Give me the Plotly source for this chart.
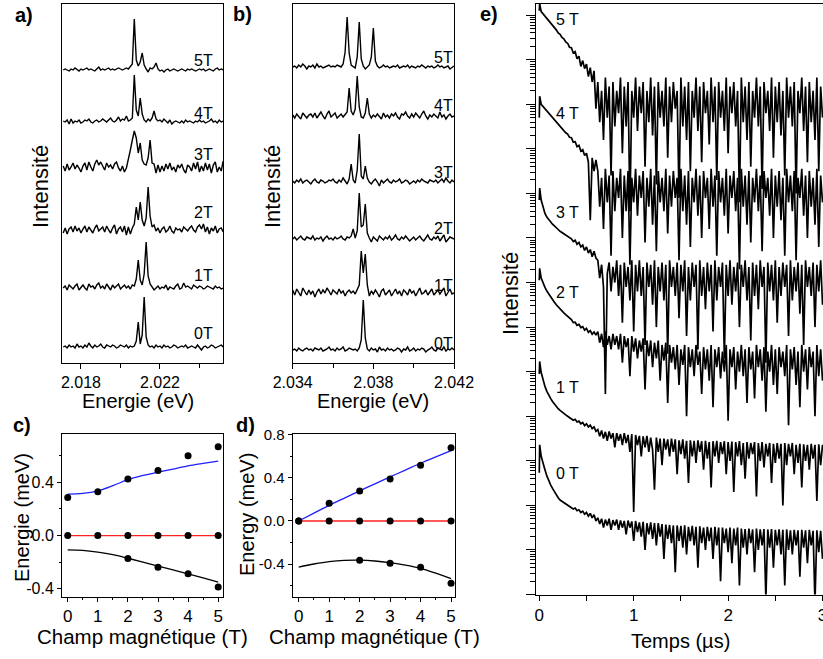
import numpy as np
import plotly.graph_objects as go

W, H = 823, 659
FONT = "Liberation Sans, Arial, sans-serif"

def px(x):
    return x / W

def py(y):
    return 1 - y / H

FIELDS = ["0T", "1T", "2T", "3T", "4T", "5T"]

# ---------------- Panel a : spectra (intensity, arbitrary units) ----------------
A_E = np.round(2.0171 + 0.0001 * np.arange(82), 4)
A_0T = [0,1,-1,2,0,1,-1,3,0,1, -1,2,0,4,1,-1,2,0,1,3, 0,-1,2,1,0,2,1,-1,0,2, 1,0,2,-1,1,0,
        1,6,25,3,12,50,10,2,0,1,-1,2,0,1,
        -1,2,0,1,-1,0,2,1,-1,0, 1,0,2,-1,0,1,0,-1,2,0, -3,0,1,-1,0,2,1,-1,0,1,2,0]
A_1T = [0,2,-2,3,1,-1,2,4,-2,1, 3,0,-2,4,1,2,-1,3,5,0, 2,-1,4,1,-2,3,0,2,4,-1, 1,3,0,2,-1,3,
        2,9,28,8,3,14,46,12,4,1,-2,0,2,-1,
        1,0,3,-2,1,0,-1,2,4,-1, 0,5,1,2,0,-1,3,1,0,2, 1,-1,0,2,1,0,-1,2,0,1,-1,0]
A_2T = [-3,2,-4,1,3,-2,4,-1,2,-3, 1,4,-2,3,0,-3,2,5,-1,1, 3,-2,4,0,-3,2,5,-4,1,3, -2,4,-5,3,-4,2,
        6,23,10,28,10,4,12,43,14,3,5,-1,2,-3,
        1,3,-2,0,4,-1,-3,2,0,1, -2,3,1,-1,2,4,0,-2,3,5, 1,6,-2,3,-4,2,-1,4,-3,1,2,-2]
A_3T = [2,-3,4,-2,1,5,-1,3,0,-4, 2,5,-2,6,1,-3,4,8,3,6, 2,-2,5,1,3,-1,4,6,0,-3, 2,-4,0,8,18,28,
        37,30,15,25,8,4,3,10,28,5,4,-5,3,-4,
        2,-3,4,-1,5,-2,1,-4,3,0, 4,-2,-5,3,1,-3,5,-1,6,-4, 2,-3,5,-2,4,-5,3,6,-4,1,-3,7]
A_4T = [1,0,2,-2,3,-1,1,0,2,-1, 0,2,1,3,0,-1,1,2,0,1, 3,1,0,2,4,1,0,2,5,1, 3,2,6,1,2,4,
        47,12,6,24,8,2,0,3,1,4,11,3,1,2,
        0,3,1,-1,2,-2,0,1,0,-1, 1,-1,2,0,1,0,-1,1,0,2, 0,1,-1,0,1,3,0,1,-1,2,0,1]
A_5T = [0,1,0,-1,1,0,2,0,-1,1, 0,1,2,0,1,0,-1,1,3,0, 1,0,1,2,0,1,0,1,2,1, 0,1,2,1,3,6,
        51,10,4,8,17,5,1,-2,2,1,3,7,1,-1,
        0,-2,0,1,-1,0,1,0,-1,0, 1,0,-1,1,0,1,0,-1,0,1, 0,1,-1,0,1,0,-1,1,2,0,1,0]
A_OFFSET = [16, 75, 133, 195, 241, 293]

# ---------------- Panel b : spectra ----------------
B_E = np.round(2.0340 + 0.0001 * np.arange(81), 4)
B_0T = [0,1,-1,2,0,-1,1,2,0,1, -1,2,1,0,2,-1,0,1,3,0, 1,-1,2,0,1,3,-1,0,2,1, 0,1,-1,2,
        10,50,12,1,-1,2,
        0,1,-2,3,0,1,-1,2,0,1, -1,0,2,1,-2,1,0,3,-1,0, 2,-1,1,0,2,1,-2,0,1,3, 0,-1,2,1,0,3,-1,1,0,2,0]
B_1T = [3,-2,4,0,-3,5,1,-2,3,-1, 2,-4,1,4,-1,3,0,5,2,-2, 3,1,-1,4,0,2,-3,1,3,0, 2,-1,3,8,
        42,20,39,8,-3,2,
        -1,3,0,-4,2,4,-2,1,3,-3, 0,4,-1,2,-3,3,1,-2,4,0, 2,-3,1,5,-1,0,3,-2,1,4, -2,0,3,-1,2,5,-3,1,4,-1,0]
B_2T = [0,2,-1,1,3,0,-1,2,1,0, 3,-1,1,0,2,-2,1,3,0,1, -1,2,0,1,3,0,-1,2,1,3,
        10,1,8,46,12,14,35,6,1,-3,
        2,0,-2,3,1,-1,2,0,3,-1, 1,4,0,-1,2,0,3,1,-2,0, 2,-1,1,3,0,-2,1,4,0,-1, 2,0,3,-2,1,4,-3,0,2,1,0]
B_3T = [1,-1,2,0,3,-1,1,2,0,-2, 1,3,0,-1,2,1,-1,0,2,1, 3,0,-1,2,0,4,1,-2,3,
        18,2,-1,12,48,6,3,16,4,0,-2,
        1,3,0,-4,2,-1,1,3,0,-1, 2,0,1,3,-1,0,2,1,-2,0, 1,-1,2,0,3,1,0,-1,2,1, 0,2,-1,1,3,0,4,1,-1,2,0]
B_4T = [2,-1,3,0,-2,4,1,-1,2,3, 0,4,-1,2,5,1,-2,3,6,0, 2,4,-1,1,3,0,2,5,
        29,6,2,8,41,10,0,-1,4,19,3,-1,
        2,0,3,1,-2,4,0,2,-1,3, 1,4,0,-2,3,2,5,1,-1,3, 0,4,2,-1,3,6,1,-2,2,0, 3,1,-1,5,0,2,-2,1,3,0,1]
B_5T = [0,1,-1,2,0,3,1,-2,1,0, 2,-1,3,0,1,-1,0,1,2,0, 1,0,2,1,0,3,
        15,50,14,2,0,-1,10,45,8,1,-2,0,2,10,39,6,
        1,-1,0,2,0,1,-1,0, 1,0,2,-1,0,1,0,2,-1,1, 0,-1,1,0,2,0,-1,1,0,1, -1,0,2,0,1,-1,0,1,-2,0,1]
B_OFFSET = [13, 70, 124, 181, 246, 296]

# ---------------- Panel c / d : Zeeman energies (meV) ----------------
FIELD_T = [0, 1, 2, 3, 4, 5]
C_UP = [0.286, 0.33, 0.426, 0.488, 0.60, 0.668]
C_MID = [0, 0, 0, 0, 0, 0]
C_LOW_T = [2, 3, 4, 5]
C_LOW = [-0.172, -0.237, -0.287, -0.386]
FIT_T = [0, 0.5, 1, 1.5, 2, 2.5, 3, 3.5, 4, 4.5, 5]
C_FIT_UP = [0.312, 0.317, 0.336, 0.375, 0.42, 0.452, 0.476, 0.50, 0.523, 0.542, 0.56]
C_FIT_LOW = [-0.107, -0.111, -0.124, -0.143, -0.17, -0.199, -0.229, -0.258, -0.287, -0.318, -0.349]

D_UP = [0.0, 0.165, 0.279, 0.39, 0.518, 0.682]
D_MID = [0, 0, 0, 0, 0, 0]
D_LOW_T = [2, 3, 4, 5]
D_LOW = [-0.366, -0.394, -0.431, -0.58]
D_FIT_UP = [0.0, 0.073, 0.145, 0.213, 0.28, 0.345, 0.41, 0.473, 0.537, 0.597, 0.655]
D_FIT_LOW = [-0.428, -0.40, -0.378, -0.366, -0.364, -0.372, -0.388, -0.41, -0.44, -0.485, -0.535]

# ---------------- Panel e : decays (log10 intensity, offset per field) ----------------
E_T = [0.0, 0.004] + [round(0.02 * k, 2) for k in range(1, 151)]
E_5T = [13.10, 13.26,
        13.08, 13.03, 12.98, 12.92, 12.87, 12.81, 12.77, 12.71, 12.67, 12.60,
        12.57, 12.50, 12.47, 12.40, 12.37, 12.28, 12.27, 12.15, 12.18, 12.02,
        12.08, 11.85, 11.98, 11.80, 11.90, 11.62, 11.82, 11.50, 11.75, 10.90,
        11.5, 10.6, 11.3, 10.2, 11.6, 10.7, 11.4, 9.4, 11.5, 10.5,
        11.3, 10.8, 11.6, 9.9, 11.4, 10.5, 11.5, 8.6, 11.3, 10.7,
        11.6, 10.4, 11.4, 10.8, 11.5, 9.6, 11.3, 10.6, 11.6, 10.3,
        11.4, 9.2, 11.5, 10.7, 11.3, 10.5, 11.6, 9.8, 11.4, 10.6,
        11.5, 10.9, 11.3, 8.9, 11.6, 10.5, 11.4, 10.2, 11.5, 9.5,
        11.3, 10.7, 11.6, 10.4, 11.4, 9.7, 11.5, 10.8, 11.3, 10.1,
        11.6, 10.6, 11.4, 9.3, 11.5, 10.7, 11.3, 10.4, 11.6, 9.9,
        11.4, 10.8, 11.5, 10.5, 11.3, 8.8, 11.6, 10.6, 11.4, 10.2,
        11.5, 9.6, 11.3, 10.7, 11.6, 10.5, 11.4, 9.1, 11.5, 10.8,
        11.3, 10.4, 11.6, 9.8, 11.4, 10.6, 11.5, 10.3, 11.3, 9.4,
        11.6, 10.7, 11.4, 10.5, 11.5, 9.0, 11.3, 10.8, 11.6, 10.4,
        11.4, 9.7, 11.5, 10.6, 11.3, 10.2, 11.6, 9.5, 11.4, 10.7]
E_4T = [10.70, 11.18,
        11.00, 10.95, 10.90, 10.84, 10.79, 10.74, 10.70, 10.64, 10.60, 10.55,
        10.50, 10.46, 10.41, 10.36, 10.33, 10.26, 10.25, 10.15, 10.16, 10.05,
        10.08, 9.95, 9.98, 9.85, 9.90, 9.70, 8.40, 9.80, 9.50, 9.75,
        9.5, 8.7, 9.35, 8.2, 9.55, 8.8, 9.4, 7.6, 9.5, 8.6,
        9.35, 8.9, 9.55, 8.0, 9.4, 8.6, 9.5, 7.4, 9.35, 8.8,
        9.55, 8.5, 9.4, 8.9, 9.5, 7.9, 9.35, 8.7, 9.55, 8.3,
        9.4, 7.7, 9.5, 8.8, 9.35, 8.6, 9.55, 8.1, 9.4, 8.7,
        9.5, 8.9, 9.35, 7.5, 9.55, 8.6, 9.4, 8.3, 9.5, 7.8,
        9.35, 8.8, 9.55, 8.5, 9.4, 8.0, 9.5, 8.9, 9.35, 8.2,
        9.55, 8.7, 9.4, 7.6, 9.5, 8.8, 9.35, 8.5, 9.55, 8.1,
        9.4, 8.9, 9.5, 8.6, 9.35, 7.3, 9.55, 8.7, 9.4, 8.3,
        9.5, 7.9, 9.35, 8.8, 9.55, 8.6, 9.4, 7.7, 9.5, 8.9,
        9.35, 8.5, 9.55, 8.0, 9.4, 8.7, 9.5, 8.4, 9.35, 7.6,
        9.55, 8.8, 9.4, 8.6, 9.5, 7.5, 9.35, 8.9, 9.55, 8.5,
        9.4, 8.0, 9.5, 8.7, 9.35, 8.3, 9.55, 7.8, 9.4, 8.8]
E_3T = [8.85, 9.12,
        8.85, 8.68, 8.55, 8.47, 8.41, 8.36, 8.31, 8.27, 8.22, 8.19,
        8.15, 8.12, 8.09, 8.06, 8.03, 7.99, 7.98, 7.92, 7.95, 7.86,
        7.90, 7.80, 7.84, 7.72, 7.80, 7.66, 7.74, 7.58, 7.70, 7.55,
        7.5, 7.1, 7.4, 6.9, 4.5, 7.2, 7.45, 6.8, 7.35, 7.0,
        7.5, 6.7, 7.4, 6.1, 7.45, 6.9, 7.35, 6.6, 7.5, 5.9,
        7.4, 6.8, 7.5, 6.7, 7.35, 5.6, 7.45, 6.9, 7.4, 6.5,
        7.5, 6.0, 7.35, 6.8, 7.45, 6.6, 7.4, 5.4, 7.5, 6.9,
        7.35, 6.7, 7.45, 6.2, 7.4, 6.8, 7.5, 5.8, 7.35, 6.6,
        7.45, 6.9, 7.4, 5.5, 7.5, 6.7, 7.35, 6.4, 7.45, 6.8,
        7.4, 5.9, 7.5, 6.6, 7.35, 6.9, 7.45, 5.3, 7.4, 6.7,
        7.5, 6.5, 7.35, 6.8, 7.45, 6.0, 7.4, 6.9, 7.5, 6.6,
        7.35, 5.7, 7.45, 6.7, 7.4, 6.4, 7.5, 6.9, 7.35, 5.2,
        7.45, 6.8, 7.4, 6.6, 7.5, 6.1, 7.35, 6.7, 7.45, 6.9,
        7.4, 5.8, 7.5, 6.6, 7.35, 6.8, 7.45, 6.3, 7.4, 5.6,
        7.5, 6.9, 7.35, 6.7, 7.45, 6.0, 7.4, 6.8, 7.5, 6.5]
E_2T = [7.05, 7.32,
        7.10, 6.98, 6.89, 6.81, 6.74, 6.67, 6.62, 6.56, 6.50, 6.45,
        6.40, 6.36, 6.32, 6.28, 6.24, 6.19, 6.17, 6.10, 6.11, 6.04,
        6.06, 5.99, 6.01, 5.93, 5.97, 5.88, 5.92, 5.84, 5.89, 5.82,
        5.9, 5.65, 5.85, 5.55, 5.9, 5.6, 5.8, 5.5, 5.85, 5.6,
        5.8, 5.5, 5.85, 5.2, 5.8, 5.55, 5.75, 4.9, 5.8, 5.45,
        5.75, 5.3, 5.7, 5.45, 5.75, 4.6, 5.7, 5.35, 5.7, 5.1,
        5.65, 5.3, 5.7, 4.8, 5.6, 5.25, 5.65, 4.3, 5.6, 5.2,
        5.55, 5.05, 5.6, 4.7, 5.5, 5.15, 5.6, 4.0, 5.55, 5.1,
        5.5, 4.9, 5.6, 5.15, 5.45, 4.5, 5.55, 5.05, 5.5, 4.8,
        5.6, 4.2, 5.5, 5.1, 5.55, 4.85, 5.45, 5.0, 5.6, 3.9,
        5.5, 5.1, 5.55, 4.6, 5.45, 5.0, 5.6, 4.9, 5.5, 4.3,
        5.55, 5.05, 5.45, 4.4, 5.6, 5.1, 5.5, 4.8, 5.55, 4.1,
        5.45, 5.0, 5.6, 4.7, 5.5, 4.5, 5.55, 5.1, 5.45, 4.9,
        5.6, 3.8, 5.5, 5.05, 5.55, 4.7, 5.45, 4.2, 5.6, 5.0,
        5.5, 4.6, 5.55, 5.1, 5.45, 4.0, 5.6, 4.9, 5.5, 4.8]
E_1T = [4.95, 5.23,
        4.98, 4.80, 4.67, 4.56, 4.47, 4.40, 4.33, 4.27, 4.22, 4.17,
        4.13, 4.09, 4.06, 4.03, 4.00, 3.97, 3.95, 3.91, 3.93, 3.87,
        3.89, 3.83, 3.86, 3.79, 3.83, 3.76, 3.80, 3.72, 3.76, 3.66,
        3.7, 3.55, 3.68, 3.5, 3.65, 3.45, 3.66, 3.5, 3.62, 3.3,
        3.62, 3.45, 3.6, 3.35, 3.62, 3.4, 3.58, 3.2, 3.6, 1.85,
        3.58, 3.35, 3.56, 3.1, 3.55, 3.3, 3.56, 3.2, 3.52, 3.25,
        2.35, 3.52, 3.2, 3.5, 2.9, 3.5, 3.25, 3.48, 3.1, 3.5,
        3.2, 3.48, 2.7, 3.46, 3.15, 3.48, 3.05, 3.45, 2.5, 3.46,
        3.1, 3.45, 2.95, 3.46, 3.2, 3.44, 2.8, 3.45, 3.05, 3.42,
        2.4, 3.44, 3.1, 3.45, 2.95, 3.42, 3.15, 3.44, 2.7, 3.42,
        3.0, 3.43, 2.3, 3.42, 3.1, 3.44, 2.9, 3.4, 2.6, 3.42,
        3.05, 3.4, 3.15, 3.42, 2.2, 3.4, 3.0, 3.42, 2.85, 3.38,
        3.1, 3.4, 2.5, 3.38, 2.95, 3.4, 3.05, 3.38, 2.0, 3.4,
        2.9, 3.38, 3.1, 3.4, 2.7, 3.36, 2.95, 3.38, 2.4, 3.37,
        3.0, 3.36, 2.8, 3.38, 3.05, 3.36, 2.1, 3.37, 2.9, 3.36]
E_0T = [2.73, 3.36,
        3.10, 2.92, 2.80, 2.66, 2.55, 2.46, 2.38, 2.30, 2.23, 2.17,
        2.12, 2.09, 2.06, 2.02, 2.00, 1.97, 1.95, 1.92, 1.94, 1.88,
        1.90, 1.84, 1.87, 1.80, 1.84, 1.76, 1.82, 1.72, 1.79, 1.65,
        1.72, 1.58, 1.7, 1.5, 1.68, 1.55, 1.7, 1.45, 1.67, 1.55,
        1.68, 1.45, 1.66, 1.5, 1.65, 1.35, 1.66, 1.5, 1.64, 1.2,
        1.65, 1.4, 1.62, 1.3, 1.63, 1.0, 1.6, 1.35, 1.62, 1.25,
        1.6, 1.1, 1.6, 1.3, 1.58, 0.8, 1.57, 1.25, 1.56, 1.15,
        1.55, 0.5, 1.55, 1.2, 1.54, 1.05, 1.55, 0.9, 1.52, 1.2,
        1.54, 1.1, 1.52, 0.6, 1.53, 1.15, 1.5, 1.0, 1.52, 1.2,
        1.5, 0.8, 1.52, 1.1, 1.5, 0.3, 1.5, 1.15, 1.48, 0.95,
        1.5, 0.7, 1.48, 1.1, 1.5, 0.2, 1.48, 1.05, 1.47, 0.9,
        1.48, 1.15, 1.46, 0.5, 1.48, 1.0, 1.46, 1.1, 1.47, -0.1,
        1.46, 1.05, 1.47, 0.6, 1.45, 1.1, 1.46, 0.9, 1.45, 0.2,
        1.46, 1.0, 1.44, 0.9, 1.45, 1.1, 1.44, 0.4, 1.45, 1.05,
        1.44, 0.7, 1.45, 1.1, 1.43, -0.2, 1.44, 0.95, 1.43, 0.8]

A_SPECTRA = [A_0T, A_1T, A_2T, A_3T, A_4T, A_5T]
B_SPECTRA = [B_0T, B_1T, B_2T, B_3T, B_4T, B_5T]
E_DECAYS = [E_0T, E_1T, E_2T, E_3T, E_4T, E_5T]

fig = go.Figure()
BLK = "black"

for spec, off in zip(A_SPECTRA, A_OFFSET):
    n = min(len(A_E), len(spec))
    fig.add_trace(go.Scatter(x=A_E[:n], y=np.array(spec[:n]) + off, mode="lines",
                             line=dict(color=BLK, width=1.4), xaxis="x", yaxis="y"))
for spec, off in zip(B_SPECTRA, B_OFFSET):
    n = min(len(B_E), len(spec))
    fig.add_trace(go.Scatter(x=B_E[:n], y=np.array(spec[:n]) + off, mode="lines",
                             line=dict(color=BLK, width=1.4), xaxis="x2", yaxis="y2"))

# panel c
fig.add_trace(go.Scatter(x=FIT_T, y=C_FIT_UP, mode="lines", line=dict(color="#1f1fff", width=1.3, shape="spline"), xaxis="x3", yaxis="y3"))
fig.add_trace(go.Scatter(x=FIELD_T, y=C_MID, mode="lines", line=dict(color="#ff2020", width=1.3), xaxis="x3", yaxis="y3"))
fig.add_trace(go.Scatter(x=FIT_T, y=C_FIT_LOW, mode="lines", line=dict(color=BLK, width=1.3, shape="spline"), xaxis="x3", yaxis="y3"))
for xs, ys in [(FIELD_T, C_UP), (FIELD_T, C_MID), (C_LOW_T, C_LOW)]:
    fig.add_trace(go.Scatter(x=xs, y=ys, mode="markers", marker=dict(color=BLK, size=7), xaxis="x3", yaxis="y3"))

# panel d
fig.add_trace(go.Scatter(x=FIT_T, y=D_FIT_UP, mode="lines", line=dict(color="#1f1fff", width=1.3, shape="spline"), xaxis="x4", yaxis="y4"))
fig.add_trace(go.Scatter(x=FIELD_T, y=D_MID, mode="lines", line=dict(color="#ff2020", width=1.3), xaxis="x4", yaxis="y4"))
fig.add_trace(go.Scatter(x=FIT_T, y=D_FIT_LOW, mode="lines", line=dict(color=BLK, width=1.3, shape="spline"), xaxis="x4", yaxis="y4"))
for xs, ys in [(FIELD_T, D_UP), (FIELD_T, D_MID), (D_LOW_T, D_LOW)]:
    fig.add_trace(go.Scatter(x=xs, y=ys, mode="markers", marker=dict(color=BLK, size=7), xaxis="x4", yaxis="y4"))

# panel e
for dec in E_DECAYS:
    n = min(len(E_T), len(dec))
    fig.add_trace(go.Scatter(x=E_T[:n], y=10.0 ** np.array(dec[:n]), mode="lines",
                             line=dict(color=BLK, width=1.7), xaxis="x5", yaxis="y5"))

tickfont = dict(family=FONT, size=16, color=BLK)
tickfont2 = dict(family=FONT, size=17, color=BLK)
base = dict(showline=True, linecolor=BLK, linewidth=1, mirror=True, ticks="outside",
            tickcolor=BLK, ticklen=5, tickwidth=1, showgrid=False, zeroline=False,
            tickfont=tickfont, automargin=False)

def minor(vals, ln=3):
    return dict(ticks="outside", tickmode="array", tickvals=vals, ticklen=ln, tickcolor=BLK, showgrid=False)

fig.update_layout(
    width=W, height=H, margin=dict(l=0, r=0, t=0, b=0, pad=0, autoexpand=False),
    paper_bgcolor="white", plot_bgcolor="white", showlegend=False,
    xaxis=dict(base, domain=[px(62), px(223)], range=[2.01704, 2.02519], anchor="y",
               tickmode="array", tickvals=[2.018, 2.022], ticktext=["2.018", "2.022"],
               minor=minor([2.020, 2.024], 4)),
    yaxis=dict(base, domain=[py(363), py(4)], range=[0, 359], anchor="x",
               showticklabels=False, ticks=""),
    xaxis2=dict(base, domain=[px(292.7), px(454)], range=[2.034, 2.042], anchor="y2",
                tickmode="array", tickvals=[2.034, 2.038, 2.042], ticktext=["2.034", "2.038", "2.042"],
                minor=minor([2.036, 2.040], 4)),
    yaxis2=dict(base, domain=[py(363), py(4)], range=[0, 359], anchor="x2",
                showticklabels=False, ticks=""),
    xaxis3=dict(base, domain=[px(62), px(222.7)], range=[-0.19, 5.15], anchor="y3",
                tickmode="array", tickvals=[0, 1, 2, 3, 4, 5], ticklen=4, tickfont=tickfont2,
                minor=minor([0.5, 1.5, 2.5, 3.5, 4.5], 2)),
    yaxis3=dict(base, domain=[py(597), py(434)], range=[-0.461, 0.763], anchor="x3",
                tickmode="array", tickvals=[-0.4, 0.0, 0.4], ticktext=["-0.4", "0.0", "0.4"], ticklen=4,
                tickfont=tickfont, minor=minor([-0.2, 0.2, 0.6], 2)),
    xaxis4=dict(base, domain=[px(292.7), px(455)], range=[-0.197, 5.13], anchor="y4",
                tickmode="array", tickvals=[0, 1, 2, 3, 4, 5], ticklen=4, tickfont=tickfont2,
                minor=minor([0.5, 1.5, 2.5, 3.5, 4.5], 2)),
    yaxis4=dict(base, domain=[py(596.7), py(434.3)], range=[-0.704, 0.806], anchor="x4",
                tickmode="array", tickvals=[-0.4, 0.0, 0.4, 0.8], ticktext=["-0.4", "0.0", "0.4", "0.8"], ticklen=4,
                tickfont=dict(family=FONT, size=15, color=BLK), minor=minor([-0.6, -0.2, 0.2, 0.6], 2)),
    xaxis5=dict(base, domain=[px(535.7), 1.0], range=[-0.038, 3.005], anchor="y5",
                tickmode="array", tickvals=[0, 1, 2, 3], ticklen=5, tickfont=tickfont2,
                ticklabeloverflow="allow", minor=minor([0.5, 1.5, 2.5], 5)),
    yaxis5=dict(base, domain=[py(594.5), py(4)], type="log", range=[0, 13.25], anchor="x5",
                mirror=False, showticklabels=False, dtick=1, ticklen=9,
                minor=dict(ticks="outside", ticklen=5, dtick="D1", tickcolor=BLK, showgrid=False)),
)

ann = []
def text(x, y, s, size=20, angle=0, bold=False, xanchor="center"):
    ann.append(dict(x=px(x), y=py(y), xref="paper", yref="paper", text=("<b>%s</b>" % s) if bold else s,
                    showarrow=False, textangle=angle, xanchor=xanchor, yanchor="middle",
                    font=dict(family=FONT, size=size, color=BLK)))

# panel letters
text(24, 15, "a)", 20, bold=True)
text(243, 14, "b)", 20, bold=True)
text(22, 425, "c)", 20, bold=True)
text(246, 425, "d)", 20, bold=True)
text(489, 14, "e)", 20, bold=True)
# axis titles
text(40, 187, "Intensité", 22, angle=-90)
text(138, 401, "Energie (eV)", 20)
text(272, 187, "Intensité", 22, angle=-90)
text(373, 401, "Energie (eV)", 20)
text(22, 518, "Energie (meV)", 20, angle=-90)
text(142, 636, "Champ magnétique (T)", 20.5)
text(247, 515, "Energy (meV)", 20, angle=-90)
text(374, 636, "Champ magnétique (T)", 20.5)
text(511, 293, "Intensité", 22, angle=-90)
text(680, 641, "Temps (µs)", 20)

# field labels
for lab, y in zip(FIELDS, [333, 275, 213, 155, 113, 60]):
    text(203, y, lab, 16)
for lab, y in zip(FIELDS, [343, 285, 228, 173, 105, 57]):
    text(443, y, lab, 16)
for lab, y in zip(FIELDS, [473, 387, 293, 213, 113, 20]):
    text(567, y, lab.replace("T", " T"), 16)

fig.update_layout(annotations=ann)
fig.write_html("out.html", config={"displayModeBar": False},
               post_script="document.body.style.margin='0px';document.body.style.overflow='hidden';")
